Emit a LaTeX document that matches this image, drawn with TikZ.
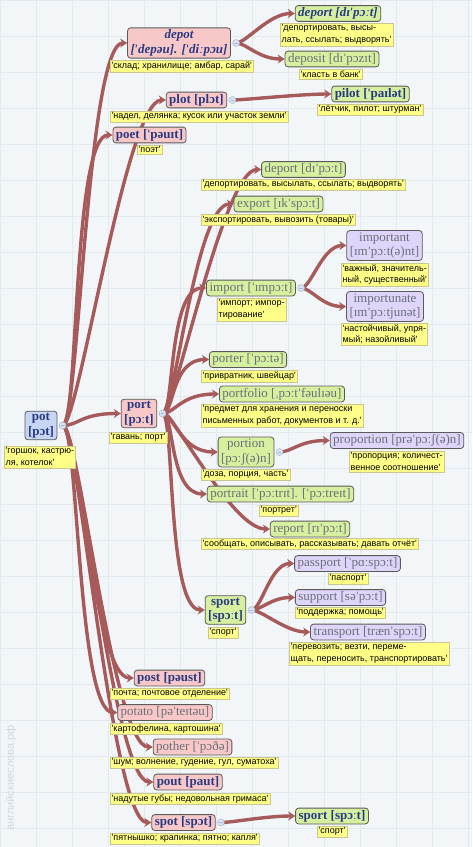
\documentclass[tikz,border=0pt]{standalone}
\usepackage{fontspec}
\setmainfont{Liberation Serif}
\newfontfamily\glossfamily{Liberation Sans}
\newfontfamily\ipafamily{DejaVu Serif}[Scale=0.85]
\catcode`\ˈ=\active
\protected\defˈ{{\ipafamily\char"02C8}}
\catcode`\ˌ=\active
\protected\defˌ{{\ipafamily\char"02CC}}
\newcommand\gl[1]{\textquotesingle#1\textquotesingle}
\usetikzlibrary{arrows.meta, positioning, backgrounds}
\definecolor{cpink}{HTML}{F8C8C8}
\definecolor{cgreen}{HTML}{D6F0A0}
\definecolor{cviolet}{HTML}{DFD5FA}
\definecolor{cblue}{HTML}{C6D6F2}
\definecolor{cyellow}{HTML}{FFFF88}
\definecolor{cedge}{HTML}{5A5A5A}
\definecolor{cgloss}{HTML}{C8C890}
\definecolor{cnavy}{HTML}{2A3A82}
\definecolor{cdim}{HTML}{6A7078}
\definecolor{clink}{HTML}{A65A5A}
\definecolor{cfold}{HTML}{D8E4F4}
\definecolor{cfoldedge}{HTML}{A8B8D0}
\definecolor{cpaper}{HTML}{F3F6F9}
\definecolor{cgrid}{HTML}{E4E9EE}
\definecolor{cwater}{HTML}{D2D7DC}
\tikzset{
  every picture/.style={x=1pt, y=-1pt},
  topic/.style={draw=cedge, fill=#1, rounded corners=3pt, line width=0.8pt, align=center,
    inner xsep=3pt, inner ysep=2pt, text=cdim, font=\fontsize{13}{14.5}\selectfont},
  topic/.default=cgreen,
  strong/.style={text=cnavy, font=\fontsize{13}{14.5}\selectfont\bfseries},
  slanted/.style={text=cnavy, font=\fontsize{13}{14.5}\selectfont\bfseries\itshape},
  gloss/.style={draw=cgloss, fill=cyellow, anchor=north west, align=left, inner xsep=1.5pt,
    inner ysep=1.5pt, font=\glossfamily\fontsize{9}{11.5}\selectfont},
  fold/.style={circle, draw=cfoldedge, fill=cfold, inner sep=0pt, minimum size=7pt, line width=0.5pt,
    path picture={\draw[cfoldedge, line width=0.7pt] ([xshift=1.6pt]path picture bounding box.west)
      -- ([xshift=-1.6pt]path picture bounding box.east);}},
  branch/.style={draw=clink, line width=3.4pt, -{Stealth[length=7pt, width=9pt]},
    out=0, in=180, out distance=12pt, in distance=30pt},
}

\begin{document}
\begin{tikzpicture}[
  pk/.style={topic=cpink}, gr/.style={topic=cgreen},
  vi/.style={topic=cviolet}, bl/.style={topic=cblue}]
  \useasboundingbox (0,0) rectangle (472,847);
  \begin{scope}[on background layer]
    \fill[cpaper] (0,0) rectangle (472,847);
    \draw[cgrid, line width=0.5pt, step=36pt] (0,0) grid (472,847);
  \end{scope}
  \node[rotate=90, text=cwater, font=\glossfamily\fontsize{11}{11}\selectfont] (mark) at (11,778) {английскиеслова.рф};
  % root
  \node[bl, strong] (pot) at (41,425.5) {pot\\{[pɔt]}};
  \node[gloss] (potT) at (4,446) {\gl{горшок, кастрю-\\ля, котелок}};
  % upper branch
  \node[pk, slanted] (depot) at (179,43) {depot\\{[ˈdepəu]. [ˈdiːpɔu]}};
  \node[gloss] (depotT) at (110,60) {\gl{склад; хранилище; амбар, сарай}};
  \node[gr, slanted] (deportA) at (338,13.5) {deport [dɪˈpɔːt]};
  \node[gloss] (deportAT) at (280,23) {\gl{депортировать, высы-\\лать, ссылать; выдворять}};
  \node[gr] (deposit) at (332,59) {deposit [dɪˈpɔzɪt]};
  \node[gloss] (depositT) at (299,69) {\gl{класть в банк}};
  \node[pk, strong] (plot) at (196.5,100) {plot [plɔt]};
  \node[gloss] (plotT) at (110,111) {\gl{надел, делянка; кусок или участок земли}};
  \node[gr, strong] (pilot) at (370.5,94) {pilot [ˈpaɪlət]};
  \node[gloss] (pilotT) at (317,104) {\gl{лётчик, пилот; штурман}};
  \node[pk, strong] (poet) at (149.5,135) {poet [ˈpəuɪt]};
  \node[gloss] (poetT) at (137,145) {\gl{поэт}};
  % port and its words
  \node[pk, strong] (port) at (139,413.5) {port\\{[pɔːt]}};
  \node[gloss] (portT) at (109,432) {\gl{гавань; порт}};
  \node[gr] (deportB) at (303.5,169.5) {deport [dɪˈpɔːt]};
  \node[gloss] (deportBT) at (201,179) {\gl{депортировать, высылать, ссылать; выдворять}};
  \node[gr] (export) at (278.5,204) {export [ɪkˈspɔːt]};
  \node[gloss] (exportT) at (201,214) {\gl{экспортировать, вывозить (товары)}};
  \node[gr] (import) at (251,288) {import [ˈɪmpɔːt]};
  \node[gloss] (importT) at (217,298) {\gl{импорт; импор-\\тирование}};
  \node[vi] (important) at (384.5,245.5) {important\\{[ɪmˈpɔːt(ə)nt]}};
  \node[gloss] (importantT) at (341,263) {\gl{важный, значитель-\\ный, существенный}};
  \node[vi] (importunate) at (385,306.5) {importunate\\{[ɪmˈpɔːtjunət]}};
  \node[gloss] (importunateT) at (341,323) {\gl{настойчивый, упря-\\мый; назойливый}};
  \node[gr] (porter) at (248,359.5) {porter [ˈpɔːtə]};
  \node[gloss] (porterT) at (201,370) {\gl{привратник, швейцар}};
  \node[gr] (portfolio) at (282,394) {portfolio [ˌpɔːtˈfəulɪəu]};
  \node[gloss] (portfolioT) at (201,404) {\gl{предмет для хранения и переноски\\письменных работ, документов и т. д.}};
  \node[gr] (portion) at (246,452) {portion\\{[pɔːʃ(ə)n]}};
  \node[gloss] (portionT) at (201,469) {\gl{доза, порция, часть}};
  \node[vi] (proportion) at (397,440.5) {proportion [prəˈpɔːʃ(ə)n]};
  \node[gloss] (proportionT) at (349,451) {\gl{пропорция; количест-\\венное соотношение}};
  \node[gr] (portrait) at (280.5,494) {portrait [ˈpɔːtrɪt]. [ˈpɔːtreɪt]};
  \node[gloss] (portraitT) at (259,505) {\gl{портрет}};
  \node[gr] (report) at (310,529) {report [rɪˈpɔːt]};
  \node[gloss] (reportT) at (201,538) {\gl{сообщать, описывать, рассказывать; давать отчёт}};
  \node[gr, strong] (sportA) at (225.5,610) {sport\\{[spɔːt]}};
  \node[gloss] (sportAT) at (208,627) {\gl{спорт}};
  \node[vi] (passport) at (347.5,563.5) {passport [ˈpɑːspɔːt]};
  \node[gloss] (passportT) at (328,573) {\gl{паспорт}};
  \node[vi] (support) at (340.5,597.5) {support [səˈpɔːt]};
  \node[gloss] (supportT) at (295,607) {\gl{поддержка; помощь}};
  \node[vi] (transport) at (368,632) {transport [trænˈspɔːt]};
  \node[gloss] (transportT) at (289,642) {\gl{перевозить; везти, переме-\\щать, переносить, транспортировать}};
  % lower branch
  \node[pk, strong] (post) at (169.5,678) {post [pəust]};
  \node[gloss] (postT) at (110,688) {\gl{почта; почтовое отделение}};
  \node[pk] (potato) at (165,712.5) {potato [pəˈteɪtəu]};
  \node[gloss] (potatoT) at (110,723) {\gl{картофелина, картошина}};
  \node[pk] (pother) at (192.5,747) {pother [ˈpɔðə]};
  \node[gloss] (potherT) at (110,757) {\gl{шум; волнение, гудение, гул, суматоха}};
  \node[pk, strong] (pout) at (188,782) {pout [paut]};
  \node[gloss] (poutT) at (110,793) {\gl{надутые губы; недовольная гримаса}};
  \node[pk, strong] (spot) at (183.5,822.5) {spot [spɔt]};
  \node[gloss] (spotT) at (110,833) {\gl{пятнышко; крапинка; пятно; капля}};
  \node[gr, strong] (sportB) at (332,816) {sport [spɔːt]};
  \node[gloss] (sportBT) at (317,826) {\gl{спорт}};
  % fold buttons
  \foreach \p in {pot, port, depot, plot, import, portion, sportA, spot}
    \node[fold, right=1.5pt of \p] (\p F) {};
  % connectors
  \begin{scope}[on background layer]
    \foreach \w in {depot, plot, poet, port, post, potato, pother, pout, spot}
      \draw[branch, out distance=16pt, in distance=40pt] (potF.center) to (\w.west);
    \foreach \w in {deportB, export, import, porter, portfolio, portion, portrait, report, sportA}
      \draw[branch, in distance=38pt] (portF.center) to (\w.west);
    \foreach \w in {deportA, deposit}
      \draw[branch, out distance=10pt, in distance=26pt] (depotF.center) to (\w.west);
    \draw[branch] (plotF.center) to (pilot.west);
    \foreach \w in {important, importunate}
      \draw[branch, out distance=10pt, in distance=24pt] (importF.center) to (\w.west);
    \draw[branch] (portionF.center) to (proportion.west);
    \foreach \w in {passport, support, transport}
      \draw[branch, out distance=10pt, in distance=24pt] (sportAF.center) to (\w.west);
    \draw[branch] (spotF.center) to (sportB.west);
  \end{scope}
\end{tikzpicture}
\end{document}
